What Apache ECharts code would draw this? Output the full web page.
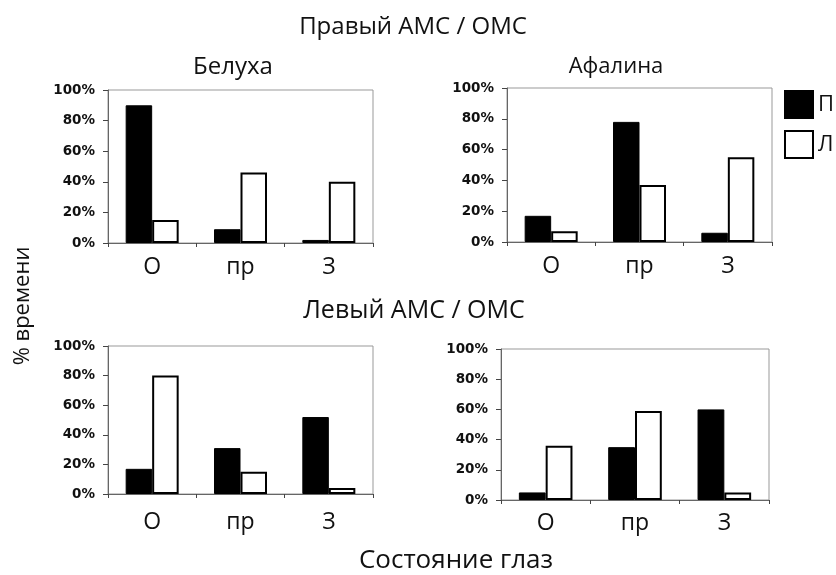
<!DOCTYPE html>
<html>
<head>
<meta charset="utf-8">
<script src="https://cdn.jsdelivr.net/npm/echarts@6/dist/echarts.min.js"></script>
<style>
html,body{margin:0;padding:0;background:#fff;}
#chart{width:836px;height:575px;}
</style>
</head>
<body>
<div id="chart"></div>
<script>
// ---- data ----
var categories = ['О', 'пр', 'З'];
var yTicks = [0, 20, 40, 60, 80, 100];
var seriesNames = ['П', 'Л'];
var belugaRightP = [90, 9, 2];
var belugaRightL = [15, 46, 40];
var dolphinRightP = [17, 78, 6];
var dolphinRightL = [7, 37, 55];
var belugaLeftP = [17, 31, 52];
var belugaLeftL = [80, 15, 4];
var dolphinLeftP = [5, 35, 60];
var dolphinLeftL = [36, 59, 5];

var topTitle = 'Правый АМС / ОМС';
var bottomTitle = 'Левый АМС / ОМС';
var panelTitles = ['Белуха', 'Афалина'];
var yName = '% времени';
var xName = 'Состояние глаз';

// ---- chart ----
var chart = echarts.init(document.getElementById('chart'), null, {renderer: 'canvas'});
var textFont = '"Open Sans", "Noto Sans", sans-serif';
var grids = [
  {left: 108, top: 90, width: 265, height: 153},
  {left: 507, top: 88, width: 265, height: 154},
  {left: 108, top: 346, width: 265, height: 148},
  {left: 501, top: 349, width: 268, height: 151}
];
var labelMargins = [13, 13, 17, 12];
var xAxes = [], yAxes = [];
grids.forEach(function (g, i) {
  g.show = true;
  g.borderColor = '#999';
  g.borderWidth = 1;
  g.backgroundColor = 'transparent';
  xAxes.push({
    type: 'category', gridIndex: i, data: categories,
    axisLine: {show: true, lineStyle: {color: '#666', width: 1}},
    axisTick: {show: true, inside: false, length: 4, lineStyle: {color: '#444'}},
    axisLabel: {fontSize: 23, color: '#111', fontFamily: textFont, margin: labelMargins[i]}
  });
  yAxes.push({
    type: 'value', gridIndex: i, min: yTicks[0], max: yTicks[yTicks.length - 1], interval: 20,
    axisLine: {show: true, lineStyle: {color: '#666', width: 1}},
    axisTick: {show: true, length: 5, lineStyle: {color: '#444'}},
    splitLine: {show: false},
    axisLabel: {formatter: '{value}%', fontSize: 13.5, fontWeight: 'bold', color: '#111',
                fontFamily: '"DejaVu Sans", sans-serif', margin: 13}
  });
});

var pData = [belugaRightP, dolphinRightP, belugaLeftP, dolphinLeftP];
var lData = [belugaRightL, dolphinRightL, belugaLeftL, dolphinLeftL];
var series = [];
for (var i = 0; i < 4; i++) {
  series.push({
    name: seriesNames[0], type: 'bar', xAxisIndex: i, yAxisIndex: i, data: pData[i],
    barGap: '0%', barCategoryGap: '40%',
    itemStyle: {color: '#000', borderColor: '#000', borderWidth: 1},
    emphasis: {disabled: true}
  });
  series.push({
    name: seriesNames[1], type: 'bar', xAxisIndex: i, yAxisIndex: i, data: lData[i],
    barGap: '0%', barCategoryGap: '40%',
    itemStyle: {color: '#fff', borderColor: '#000', borderWidth: 2},
    emphasis: {disabled: true}
  });
}

function txt(t, x, y, size, rot) {
  return {
    type: 'text', x: x, y: y, rotation: rot || 0,
    style: {text: t, fill: '#111', font: size + 'px ' + textFont, textAlign: 'center', textVerticalAlign: 'middle'}
  };
}

chart.setOption({
  animation: false,
  backgroundColor: '#fff',
  grid: grids,
  xAxis: xAxes,
  yAxis: yAxes,
  series: series,
  legend: {
    data: seriesNames, orient: 'vertical', left: 784, top: 90, padding: 0,
    itemWidth: 28, itemHeight: 27, itemGap: 11, icon: 'rect',
    textStyle: {fontSize: 22, color: '#111', fontFamily: textFont}
  },
  graphic: [
    txt(topTitle, 413, 27, 24),
    txt(panelTitles[0], 233, 67, 24),
    txt(panelTitles[1], 616, 67, 22),
    txt(bottomTitle, 414, 311, 25),
    txt(xName, 456, 561, 26),
    txt(yName, 23, 306, 22, Math.PI / 2)
  ]
});
</script>
</body>
</html>
